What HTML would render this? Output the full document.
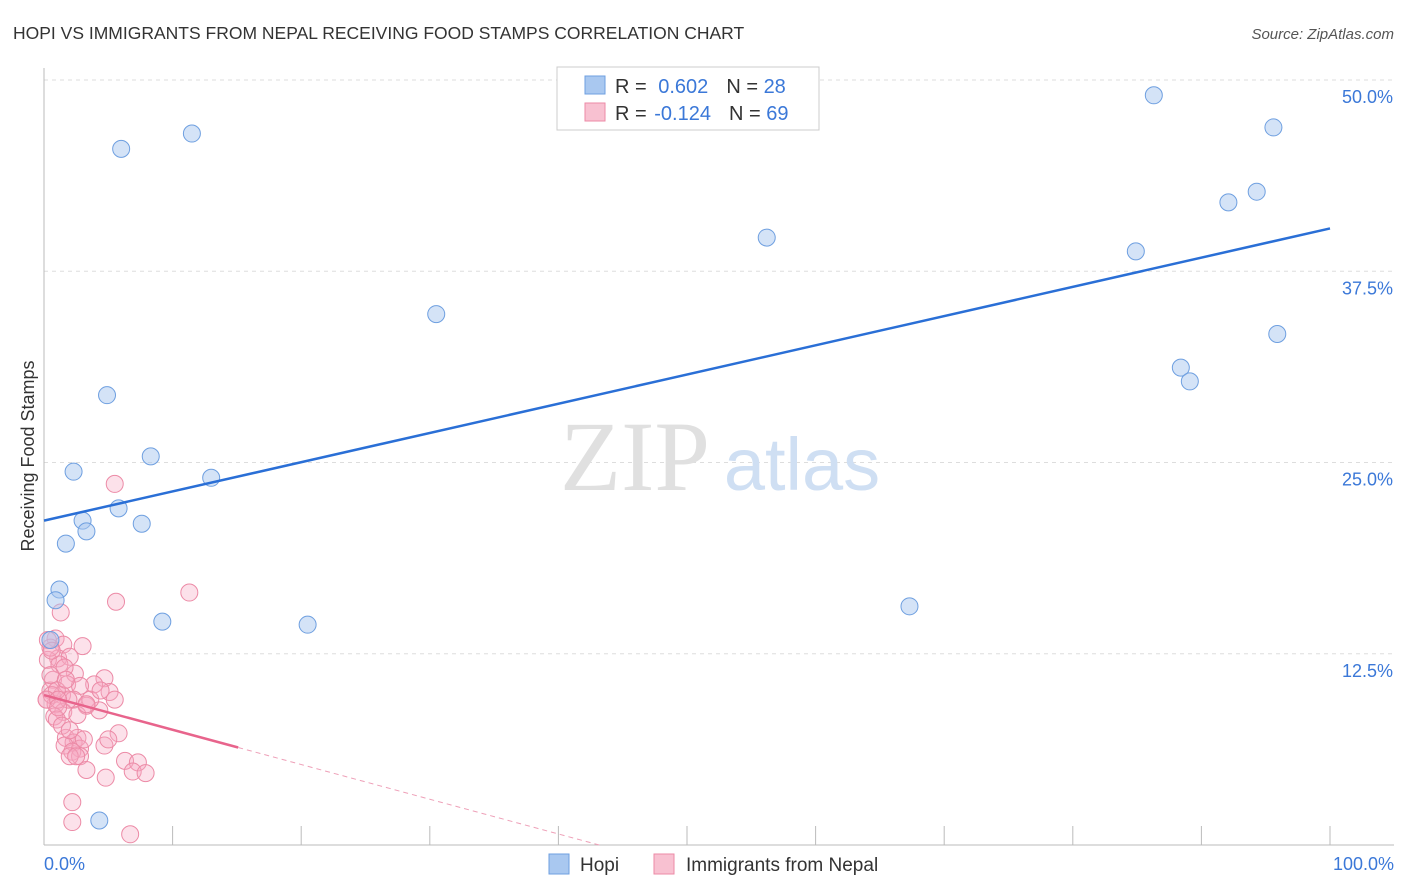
<!DOCTYPE html>
<html><head><meta charset="utf-8"><style>
body{margin:0;background:#fff;font-family:"Liberation Sans",sans-serif;}
svg{display:block}
</style></head><body>
<svg id="chart" width="1406" height="892">
<text x="13" y="39" font-size="17.5" fill="#333">HOPI VS IMMIGRANTS FROM NEPAL RECEIVING FOOD STAMPS CORRELATION CHART</text>
<text x="1394" y="39" font-size="15" fill="#555" font-style="italic" text-anchor="end">Source: ZipAtlas.com</text>
<g id="grid"></g>
<text x="635" y="490" font-size="100" fill="#e0e0e0" text-anchor="middle" font-family="Liberation Serif,serif">ZIP</text>
<text x="802" y="490" font-size="74" fill="#cfdff3" text-anchor="middle">atlas</text>
<text transform="translate(34,456) rotate(-90)" font-size="18" fill="#333" text-anchor="middle">Receiving Food Stamps</text>
<g id="pts"></g>
<g id="lines"></g>
<g>
<rect x="557" y="67" width="262" height="63" fill="#fff" stroke="#ccc"/>
<rect x="585" y="76" width="20" height="18" fill="#a9c8f0" stroke="#6e9fe0"/>
<rect x="585" y="103" width="20" height="18" fill="#f8c1d1" stroke="#ec8aa6"/>
<text x="615" y="93" font-size="20" fill="#333">R = <tspan fill="#3b78d8" dx="6">0.602</tspan><tspan dx="18">N = </tspan><tspan fill="#3b78d8">28</tspan></text>
<text x="615" y="120" font-size="20" fill="#333">R = <tspan fill="#3b78d8" dx="2">-0.124</tspan><tspan dx="18">N = </tspan><tspan fill="#3b78d8">69</tspan></text>
</g>
<g>
<rect x="549" y="854" width="20" height="20" fill="#a9c8f0" stroke="#6e9fe0"/>
<text x="580" y="871" font-size="19" fill="#333">Hopi</text>
<rect x="654" y="854" width="20" height="20" fill="#f8c1d1" stroke="#ec8aa6"/>
<text x="686" y="871" font-size="19" fill="#333">Immigrants from Nepal</text>
</g>
</svg>
<script>
const yTicks=[12.5,25,37.5,50];
const yTickLabels=["12.5%","25.0%","37.5%","50.0%"];
const xTickVals=[10,20,30,40,50,60,70,80,90,100];
const hopiX=[6.0,11.5,4.9,2.3,8.3,13.0,5.8,3.0,3.3,7.6,1.7,1.2,0.9,9.2,20.5,30.5,56.2,67.3,86.3,95.6,92.1,94.3,84.9,88.4,89.1,95.9,4.3,0.5];
const hopiY=[45.5,46.5,29.4,24.4,25.4,24.0,22.0,21.2,20.5,21.0,19.7,16.7,16.0,14.6,14.4,34.7,39.7,15.6,49.0,46.9,42.0,42.7,38.8,31.2,30.3,33.4,1.6,13.4];
const nepX=[5.5,11.3,5.6,1.3,0.9,1.5,3.0,1.1,2.0,0.3,1.2,2.4,4.7,0.7,1.8,3.9,2.8,0.5,5.1,1.4,2.3,5.5,0.2,0.9,3.3,4.3,1.5,0.8,2.6,1.0,5.8,1.7,2.6,2.3,1.6,2.8,4.7,2.2,2.8,2.0,2.5,6.3,7.3,3.3,6.9,7.9,4.8,2.2,2.2,6.7,0.5,0.6,1.9,1.0,3.6,1.6,0.3,0.2,0.5,1.1,1.4,4.4,3.1,5.0,2.0,3.3,0.6,1.7,1.1];
const nepY=[23.6,16.5,15.9,15.2,13.5,13.1,13.0,12.2,12.3,12.1,11.8,11.2,10.9,10.8,10.5,10.5,10.4,10.1,10.0,9.8,9.5,9.5,9.5,9.2,9.1,8.8,8.7,8.4,8.5,8.2,7.3,7.0,7.0,6.7,6.5,6.3,6.5,6.1,5.8,5.8,5.8,5.5,5.4,4.9,4.8,4.7,4.4,2.8,1.5,0.7,12.9,9.8,9.5,10.1,9.5,11.6,13.4,9.5,11.1,9.5,7.8,10.1,6.9,6.9,7.5,9.2,12.7,10.8,9.0];
const hopiTrend=[21.2,40.3];
const nepTrend=[9.8,-12.9];
const nepSolidEnd=15.1, nepDashEnd=43.2;
const X=v=>44+v*12.86, Y=v=>845-v*15.3;
const NS="http://www.w3.org/2000/svg";
function mk(t,a,p){const e=document.createElementNS(NS,t);for(const k in a)e.setAttribute(k,a[k]);p.appendChild(e);return e;}
const g=document.getElementById('grid');
yTicks.forEach((t,i)=>{
 const l=mk('line',{x1:44,x2:1394,y1:Y(t),y2:Y(t),stroke:'#ddd','stroke-dasharray':'4,4'},g);
 
 
 const tx=mk('text',{x:1393,y:Y(t)+23,'font-size':18,fill:'#3b78d8','text-anchor':'end'},g);
 tx.textContent=yTickLabels[i];
 
 
});
mk('line',{x1:44,x2:1394,y1:845,y2:845,stroke:'#bbb'},g);
mk('line',{x1:44,x2:44,y1:68,y2:845,stroke:'#bbb'},g);
xTickVals.forEach(v=>{
 const t=mk('line',{x1:X(v),x2:X(v),y1:826,y2:845,stroke:'#bbb'},g);
 
 
});
const a=mk('text',{x:44,y:870,'font-size':18,fill:'#3b78d8'},g);a.textContent='0.0%';


const b=mk('text',{x:1394,y:870,'font-size':18,fill:'#3b78d8','text-anchor':'end'},g);b.textContent='100.0%';


const p=document.getElementById('pts');
nepX.forEach((x,i)=>{
 const c=mk('circle',{cx:X(x),cy:Y(nepY[i]),r:8.5,fill:'rgba(246,170,195,0.35)',stroke:'#ec8aa6','stroke-width':1},p);
 
 
});
hopiX.forEach((x,i)=>{
 const c=mk('circle',{cx:X(x),cy:Y(hopiY[i]),r:8.5,fill:'rgba(169,200,240,0.5)',stroke:'#6e9fe0','stroke-width':1},p);
 
 
});
const L=document.getElementById('lines');
const h=mk('line',{x1:X(0),y1:Y(hopiTrend[0]),x2:X(100),y2:Y(hopiTrend[1]),stroke:'#2a6fd6','stroke-width':2.5},L);


const ny=v=>nepTrend[0]+(nepTrend[1]-nepTrend[0])*v/100;
const n1=mk('line',{x1:X(0),y1:Y(ny(0)),x2:X(nepSolidEnd),y2:Y(ny(nepSolidEnd)),stroke:'#e8648c','stroke-width':2.5},L);


const n2=mk('line',{x1:X(nepSolidEnd),y1:Y(ny(nepSolidEnd)),x2:X(nepDashEnd),y2:Y(ny(nepDashEnd)),stroke:'#eea0b8','stroke-width':1,'stroke-dasharray':'5,4'},L);


</script>
</body></html>
